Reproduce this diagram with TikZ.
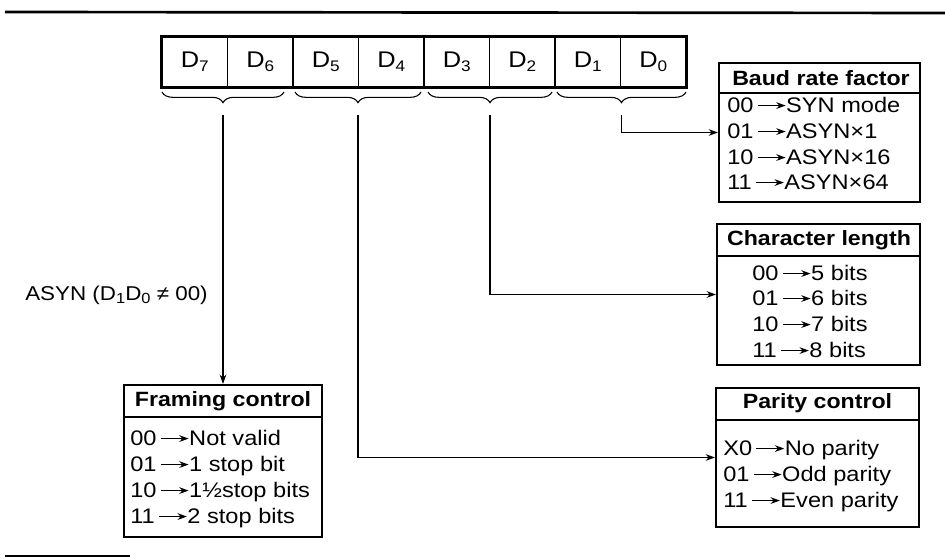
\documentclass[tikz,border=0pt]{standalone}
\usepackage{fontspec}
\setmainfont{Liberation Sans}[FakeStretch=1.12]
\usetikzlibrary{arrows.meta,decorations.pathreplacing,fit}
\newcommand{\rarr}{\,\tikz[baseline=-0.62ex]\draw[line width=0.9pt,-{Stealth[length=7pt,width=5pt]}] (0pt,0pt)--(21pt,0pt);}
\newcommand{\sbs}[1]{\raisebox{-0.3ex}{\fontsize{11.5}{12}\selectfont #1}}
\tikzset{
  box/.style={draw, line width=1.6pt, inner sep=0pt},
  sepline/.style={line width=1.2pt},
  head/.style={font=\fontsize{15.5}{18}\selectfont\bfseries, inner sep=0pt},
  entry/.style={font=\fontsize{15.8}{18}\selectfont, anchor=west, inner sep=0pt, text height=11.2pt, text depth=0pt},
  cell/.style={draw, line width=0.9pt, minimum width=49.125pt, minimum height=37.5pt, inner sep=0pt, font=\fontsize{17}{20}\selectfont},
  brc/.style={decorate, decoration={brace, mirror, amplitude=8pt}, line width=0.8pt},
  conn/.style={line width=0.9pt, -{Stealth[length=7pt,width=5pt]}},
}
\begin{document}
\begin{tikzpicture}[x=0.75pt,y=-0.75pt]
\useasboundingbox (0,0) rectangle (945,559);
% rules
\draw[line width=2pt] (5,12) -- (945,13);
\draw[line width=1.5pt] (5,556) -- (130,556);
% register
\node[cell] (d7) at (194.75,62) {D\sbs{7}};
\node[cell] (d6) at (260.25,62) {D\sbs{6}};
\node[cell] (d5) at (325.75,62) {D\sbs{5}};
\node[cell] (d4) at (391.25,62) {D\sbs{4}};
\node[cell] (d3) at (456.75,62) {D\sbs{3}};
\node[cell] (d2) at (522.25,62) {D\sbs{2}};
\node[cell] (d1) at (587.75,62) {D\sbs{1}};
\node[cell] (d0) at (653.25,62) {D\sbs{0}};
\draw[line width=2.4pt] (d7.north west) rectangle (d0.south east);
% braces
\draw[brc] (162,92) -- (284,92);
\draw[brc] (295,92) -- (421,92);
\draw[brc] (428,92) -- (552,92);
\draw[brc] (557,92) -- (686,92);
\coordinate (t1) at (223,115);
\coordinate (t2) at (358,115);
\coordinate (t3) at (490,115);
\coordinate (t4) at (621.5,115);
% Baud rate factor
\node[box, fit={(719,63) (920,202)}] (baud) {};
\draw[sepline] (719,93) -- (920,93);
\node[head] (baudh) at (821,78) {Baud rate factor};
\node[entry] (baud1) at (727,105) {00\rarr SYN mode};
\node[entry] (baud2) at (727,131) {01\rarr ASYN×1};
\node[entry] (baud3) at (727,157) {10\rarr ASYN×16};
\node[entry] (baud4) at (727,182) {11\rarr ASYN×64};
% Character length
\node[box, fit={(717,224) (920,365)}] (char) {};
\draw[sepline] (717,256) -- (920,256);
\node[head] (charh) at (819,240) {Character length};
\node[entry] (char1) at (752,273) {00\rarr 5 bits};
\node[entry] (char2) at (752,298) {01\rarr 6 bits};
\node[entry] (char3) at (752,324) {10\rarr 7 bits};
\node[entry] (char4) at (752,350) {11\rarr 8 bits};
% Parity control
\node[box, fit={(716,388) (919,527)}] (parity) {};
\draw[sepline] (716,420) -- (919,420);
\node[head] (parh) at (817.5,403) {Parity control};
\node[entry] (par1) at (723,448) {X0\rarr No parity};
\node[entry] (par2) at (723,474) {01\rarr Odd parity};
\node[entry] (par3) at (723,500) {11\rarr Even parity};
% Framing control
\node[box, fit={(124,385) (322,537)}] (frame) {};
\draw[sepline] (124,417) -- (322,417);
\node[head] (frameh) at (223,401) {Framing control};
\node[entry] (fr1) at (130,438) {00\rarr Not valid};
\node[entry] (fr2) at (130,464) {01\rarr 1 stop bit};
\node[entry] (fr3) at (130,490) {10\rarr 1½stop bits};
\node[entry] (fr4) at (130,516) {11\rarr 2 stop bits};
% label
\node[font=\fontsize{15}{17}\selectfont, anchor=west, inner sep=0pt] (asyn) at (25,295) {ASYN (D\raisebox{-0.3ex}{\fontsize{11}{12}\selectfont 1}D\raisebox{-0.3ex}{\fontsize{11}{12}\selectfont 0} ≠ 00)};
% connectors
\draw[conn] (t1) -- (frame.north);
\draw[conn] (t2) |- (parity.west);
\draw[conn] (t3) |- (char.west);
\draw[conn] (t4) |- (baud.west);
\end{tikzpicture}
\end{document}
